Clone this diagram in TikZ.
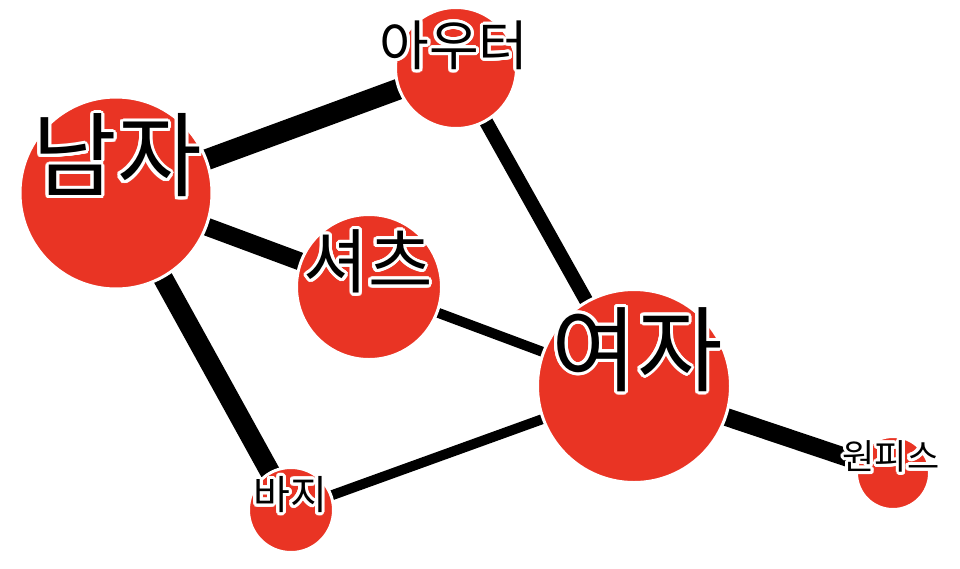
\documentclass[tikz,border=0pt]{standalone}
\usepackage{fontspec}
\usepackage{contour}
\usetikzlibrary{backgrounds}
\newfontfamily\kr{Noto Sans CJK KR}
\contourlength{3pt}
\contournumber{24}
\definecolor{nodered}{RGB}{233,52,36}
\newcommand{\halo}[1]{\contour{white}{#1}}

\begin{document}
\begin{tikzpicture}[x=1pt,y=-1pt,
  bubble/.style={circle,fill=nodered,draw=white,line width=3pt,inner sep=0pt,minimum size=#1},
  word/.style={inner sep=0pt,font=\kr\fontsize{#1}{#1}\selectfont},
  link/.style={line width=#1,black}]
\useasboundingbox (0,0) rectangle (960,568);

\node[bubble=192pt] (man) at (116,193) {};
\node[bubble=121pt] (outer) at (456,68) {};
\node[bubble=145pt] (shirt) at (369,287) {};
\node[bubble=193pt] (woman) at (634,386) {};
\node[bubble=73pt] (dress) at (893,473) {};
\node[bubble=85pt] (pants) at (291,510) {};

\begin{pgfonlayer}{background}
\draw[link=21pt] (man.center) -- (outer.center);
\draw[link=18pt] (man.center) -- (shirt.center);
\draw[link=20pt] (man.center) -- (pants.center);
\draw[link=14pt] (outer.center) -- (woman.center);
\draw[link=10pt] (shirt.center) -- (woman.center);
\draw[link=10pt] (pants.center) -- (woman.center);
\draw[link=18pt] (woman.center) -- (dress.center);
\end{pgfonlayer}

\node[word=92pt] (man-lbl) at (117,157) {\halo{남자}};
\node[word=54pt] (outer-lbl) at (454,47) {\halo{아우터}};
\node[word=70pt] (shirt-lbl) at (368,263) {\halo{셔츠}};
\node[word=93pt] (woman-lbl) at (637,351) {\halo{여자}};
\node[word=35pt] (dress-lbl) at (891,458) {\halo{원피스}};
\node[word=40pt] (pants-lbl) at (290,496) {\halo{바지}};
\end{tikzpicture}
\end{document}
